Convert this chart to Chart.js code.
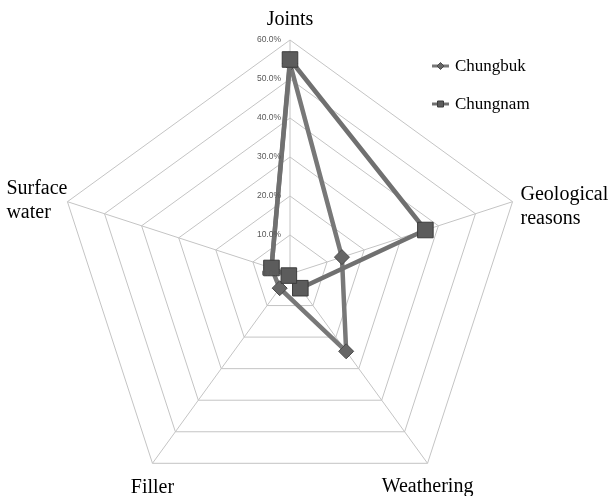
<!DOCTYPE html>
<html>
<head>
<meta charset="utf-8">
<script src="https://cdn.jsdelivr.net/npm/chart.js@4/dist/chart.umd.min.js"></script>
<style>
  html, body { margin: 0; padding: 0; background: #ffffff; overflow: hidden; }
  #wrap { width: 612px; height: 496px; overflow: hidden; }
  #radar { display: block; }
</style>
</head>
<body>
<div id="wrap"><canvas id="radar" width="612" height="520"></canvas></div>
<script>
// Share of causes, per region (percent)
const categories = ['Joints', ['Geological', 'reasons'], 'Weathering', 'Filler', ['Surface', 'water']];
const chungbuk = [54, 14, 24.5, 4.5, 5];
const chungnam = [55, 36.5, 4.5, 0.5, 5];
const seriesNames = ['Chungbuk', 'Chungnam'];
const tickStep = 10;
const tickMax = 60;

// Placement of each axis title relative to its outer vertex
const labelPlacement = [
  { align: 'center', dx: 0,  dy: -15 },
  { align: 'left',   dx: 8,  dy: -2  },
  { align: 'center', dx: 0,  dy: 29  },
  { align: 'center', dx: 0,  dy: 30  },
  { align: 'rightBlock', dx: 0, dy: -8 }
];

const serifFont = '"Liberation Serif", "Times New Roman", serif';
const lineGap = 24;

// Axis titles, tick labels and legend drawn on top of the radial scale
const decorations = {
  id: 'decorations',
  afterDraw(chart) {
    const ctx = chart.ctx;
    const scale = chart.scales.r;
    ctx.save();

    // tick labels sit just left of the vertical spoke
    ctx.font = '8.5px "Liberation Sans", Arial, sans-serif';
    ctx.fillStyle = '#595959';
    ctx.textAlign = 'right';
    ctx.textBaseline = 'middle';
    scale.ticks.forEach(t => {
      const d = scale.getDistanceFromCenterForValue(t.value);
      ctx.fillText(t.value.toFixed(1) + '%', scale.xCenter - 9, scale.yCenter - d);
    });

    // axis titles
    ctx.font = '20px ' + serifFont;
    ctx.fillStyle = '#000000';
    ctx.textBaseline = 'alphabetic';
    categories.forEach((label, i) => {
      const lines = Array.isArray(label) ? label : [label];
      const p = scale.getPointPosition(i, scale.drawingArea);
      const pl = labelPlacement[i];
      let x = p.x + pl.dx;
      if (pl.align === 'rightBlock') {
        const w = Math.max(...lines.map(l => ctx.measureText(l).width));
        x = p.x - w;
        ctx.textAlign = 'left';
      } else {
        ctx.textAlign = pl.align;
      }
      lines.forEach((l, k) => ctx.fillText(l, x, p.y + pl.dy + k * lineGap));
    });

    // legend
    const items = chart.data.datasets;
    const lx = 432, ly = 66, rowGap = 38;
    items.slice().sort((a, b) => seriesNames.indexOf(a.label) - seriesNames.indexOf(b.label)).forEach((ds, k) => {
      const y = ly + k * rowGap;
      ctx.strokeStyle = ds.borderColor;
      ctx.lineWidth = 3;
      ctx.beginPath();
      ctx.moveTo(lx, y);
      ctx.lineTo(lx + 17, y);
      ctx.stroke();
      ctx.fillStyle = ds.pointBackgroundColor;
      ctx.strokeStyle = ds.pointBorderColor;
      ctx.lineWidth = 1;
      const cx = lx + 8.5;
      ctx.beginPath();
      if (ds.pointStyle === 'rectRot') {
        ctx.moveTo(cx, y - 3.5); ctx.lineTo(cx + 3.5, y); ctx.lineTo(cx, y + 3.5); ctx.lineTo(cx - 3.5, y);
        ctx.closePath();
      } else {
        ctx.rect(cx - 3, y - 3, 6, 6);
      }
      ctx.fill();
      ctx.stroke();
      ctx.font = '17px ' + serifFont;
      ctx.fillStyle = '#000000';
      ctx.textAlign = 'left';
      ctx.textBaseline = 'middle';
      ctx.fillText(ds.label, lx + 23, y + 1);
    });

    ctx.restore();
  }
};

new Chart(document.getElementById('radar'), {
  type: 'radar',
  data: {
    labels: categories,
    datasets: [
      {
        label: seriesNames[0],
        data: chungbuk,
        order: 1,
        borderColor: '#787878',
        borderWidth: 4.5,
        backgroundColor: 'rgba(0,0,0,0)',
        fill: false,
        pointStyle: 'rectRot',
        pointRadius: 7.5,
        pointBackgroundColor: '#666666',
        pointBorderColor: '#4a4a4a',
        pointBorderWidth: 1
      },
      {
        label: seriesNames[1],
        data: chungnam,
        order: 0,
        borderColor: '#707070',
        borderWidth: 4.5,
        backgroundColor: 'rgba(0,0,0,0)',
        fill: false,
        pointStyle: 'rect',
        pointRadius: 11,
        pointBackgroundColor: '#5c5c5c',
        pointBorderColor: '#3c3c3c',
        pointBorderWidth: 1
      }
    ]
  },
  options: {
    responsive: false,
    animation: false,
    layout: { padding: { left: 56, right: 88, top: 40, bottom: 12 } },
    plugins: { legend: { display: false }, tooltip: { enabled: false } },
    elements: { line: { tension: 0 } },
    scales: {
      r: {
        min: 0,
        max: tickMax,
        ticks: { stepSize: tickStep, display: false },
        grid: { color: '#c4c4c4', lineWidth: 1 },
        angleLines: { color: '#c4c4c4', lineWidth: 1 },
        pointLabels: { display: false }
      }
    }
  },
  plugins: [decorations]
});
</script>
</body>
</html>
